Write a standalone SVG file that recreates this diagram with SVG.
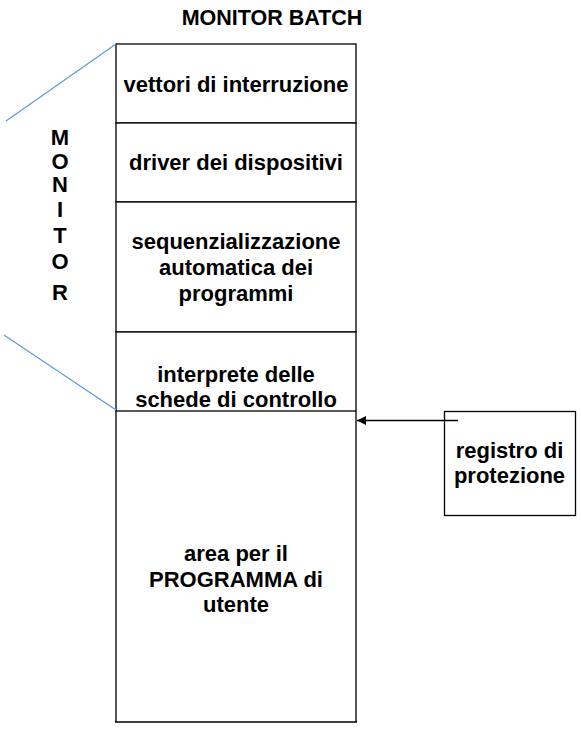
<svg xmlns="http://www.w3.org/2000/svg" width="581" height="730" viewBox="0 0 581 730">
<style>
text{font-family:"Liberation Sans",Arial,sans-serif;font-weight:bold;font-size:22px;fill:#000;text-anchor:middle}
.box{fill:#fff;stroke:#000;stroke-width:1.3}
.sep{stroke:#000;stroke-width:1.3;fill:none}
.blue{stroke:#5b9bd5;stroke-width:1.2;fill:none}
</style>
<defs>
<marker id="ah" viewBox="0 0 10 10" refX="10" refY="5" markerWidth="9" markerHeight="9" markerUnits="userSpaceOnUse" orient="auto">
<path d="M0,0 L10,5 L0,10 z" fill="#000"/>
</marker>
</defs>
<rect width="581" height="730" fill="#fff"/>
<text id="title" x="272" y="25" style="font-size:21.5px">MONITOR BATCH</text>
<g id="monitor-label">
<text x="60" y="145">M</text>
<text x="60" y="169">O</text>
<text x="60" y="192">N</text>
<text x="60" y="217">I</text>
<text x="60" y="243">T</text>
<text x="60" y="269">O</text>
<text x="60" y="300">R</text>
</g>
<g id="memory">
<g id="n-vettori">
<rect class="box" x="116" y="44" width="240" height="79"/>
<text x="236" y="91.5">vettori di interruzione</text>
</g>
<g id="n-driver">
<rect class="box" x="116" y="123" width="240" height="79"/>
<text x="236" y="169.5">driver dei dispositivi</text>
</g>
<g id="n-sequenz">
<rect class="box" x="116" y="202" width="240" height="130"/>
<text x="236" y="249">sequenzializzazione</text>
<text x="236" y="275">automatica dei</text>
<text x="236" y="301">programmi</text>
</g>
<g id="n-interprete">
<rect class="box" x="116" y="332" width="240" height="79"/>
<text x="236" y="381.5">interprete delle</text>
<text x="236" y="406.5">schede di controllo</text>
</g>
<g id="n-area">
<path class="sep" d="M116,411 V722 M356,411 V722 M115,722 H357"/>
<text x="236" y="560.5">area per il</text>
<text x="236" y="586.5">PROGRAMMA di</text>
<text x="236" y="611.5">utente</text>
</g>
</g>
<g id="n-registro">
<rect class="box" x="444.5" y="411.5" width="131" height="104"/>
<text x="509.5" y="458">registro di</text>
<text x="509.5" y="483">protezione</text>
</g>
<g id="connectors">
<line class="blue" x1="6" y1="121" x2="116" y2="44"/>
<line class="blue" x1="4" y1="335" x2="116" y2="410"/>
<line x1="458" y1="420.5" x2="357" y2="420.5" stroke="#000" stroke-width="1.3" marker-end="url(#ah)"/>
</g>
</svg>
